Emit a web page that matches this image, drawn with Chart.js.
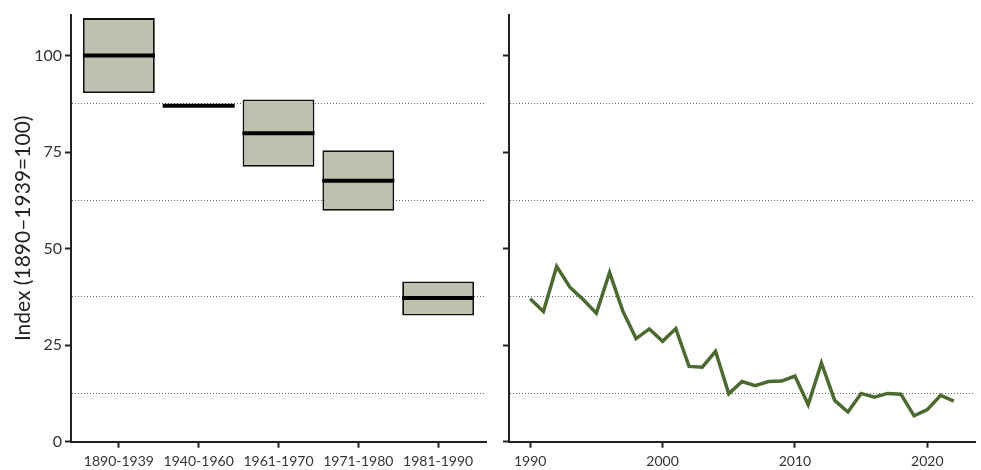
<!DOCTYPE html>
<html>
<head>
<meta charset="utf-8">
<script src="https://cdn.jsdelivr.net/npm/chart.js@4.4.0/dist/chart.umd.min.js"></script>
<style>
  html, body { margin: 0; padding: 0; background: #fff; }
  #wrap { position: relative; width: 981px; height: 470px; }
  .pane { position: absolute; top: 0; height: 470px; }
  #left { left: 0; width: 495px; }
  #right { left: 495px; width: 486px; }
</style>
</head>
<body>
<div id="wrap">
  <div class="pane" id="left"><canvas id="periodChart" width="495" height="470"></canvas></div>
  <div class="pane" id="right"><canvas id="annualChart" width="486" height="470"></canvas></div>
</div>
<script>
// Period summaries: lower / upper bound of each box and its median
const periods = ['1890-1939', '1940-1960', '1961-1970', '1971-1980', '1981-1990'];
const periodLow = [90.3, 87.0, 71.2, 59.8, 32.7];
const periodHigh = [109.7, 87.0, 88.6, 75.5, 41.5];
const periodMedian = [100, 87.0, 79.9, 67.6, 37.2];

// Annual index since 1990
const years = [1990, 1991, 1992, 1993, 1994, 1995, 1996, 1997, 1998, 1999,
               2000, 2001, 2002, 2003, 2004, 2005, 2006, 2007, 2008, 2009,
               2010, 2011, 2012, 2013, 2014, 2015, 2016, 2017, 2018, 2019,
               2020, 2021, 2022];
const annualIndex = [37.0, 33.7, 45.4, 40.0, 36.8, 33.3, 43.8, 33.8, 26.7, 29.2,
                     26.0, 29.3, 19.5, 19.3, 23.4, 12.4, 15.6, 14.5, 15.6, 15.7,
                     17.0, 9.6, 20.4, 10.7, 7.7, 12.5, 11.5, 12.5, 12.3, 6.7,
                     8.3, 12.0, 10.5];

// Axis breaks
const yMajorTicks = [0, 25, 50, 75, 100];
const yMinorBreaks = [12.5, 37.5, 62.5, 87.5];
const yearTicks = [1990, 2000, 2010, 2020];

const FONT = 'Lato, "Open Sans", sans-serif';
const INK = '#222';
const TEXT = '#333';

Chart.defaults.font.family = FONT;
Chart.defaults.animation = false;

function yScale(showLabels, axisWidth, titleText) {
  return {
    type: 'linear',
    min: 0,
    max: 110.5,
    afterBuildTicks: s => {
      s.ticks = yMajorTicks.concat(yMinorBreaks).sort((a, b) => a - b).map(v => ({ value: v }));
    },
    ticks: {
      autoSkip: false,
      padding: 3,
      color: TEXT,
      font: { size: 16 },
      callback: v => (showLabels && yMajorTicks.includes(v)) ? String(v) : ''
    },
    grid: {
      drawTicks: true,
      offset: false,
      lineWidth: 1,
      color: c => (c.tick && yMinorBreaks.includes(c.tick.value)) ? '#666' : 'rgba(0,0,0,0)',
      tickColor: c => (c.tick && yMajorTicks.includes(c.tick.value)) ? INK : 'rgba(0,0,0,0)',
      tickWidth: 2,
      tickLength: 6
    },
    border: { display: true, color: INK, width: 2, dash: [1, 2] },
    title: titleText ? {
      display: true,
      text: titleText,
      color: INK,
      font: { size: 21 },
      padding: { top: 11, bottom: 0 }
    } : { display: false },
    afterFit: s => { s.width = axisWidth; }
  };
}

function xAxisBase(min, max, tickValues, label, axisHeight) {
  return {
    type: 'linear',
    min: min,
    max: max,
    offset: false,
    afterBuildTicks: s => { s.ticks = tickValues.map(v => ({ value: v })); },
    ticks: {
      autoSkip: false,
      maxRotation: 0,
      padding: 5,
      color: TEXT,
      font: { size: 14 },
      callback: label
    },
    grid: { offset: false, drawOnChartArea: false, drawTicks: true, tickLength: 6, tickWidth: 2, tickColor: INK },
    border: { display: true, color: INK, width: 2 },
    afterFit: s => { s.height = axisHeight; }
  };
}

const common = {
  responsive: false,
  animation: false,
  plugins: { legend: { display: false }, tooltip: { enabled: false } }
};

// Left panel: period boxes with median bars
new Chart(document.getElementById('periodChart'), {
  type: 'bar',
  data: {
    datasets: [
      {
        type: 'line',
        order: 0,
        showLine: false,
        data: periods.map((p, i) => ({ x: i + 1, y: periodMedian[i] })),
        pointStyle: 'line',
        pointRadius: 36,
        pointBorderWidth: 4,
        borderWidth: 4,
        borderColor: '#000',
        pointBorderColor: '#000',
        clip: false
      },
      {
        type: 'bar',
        order: 1,
        data: periods.map((p, i) => ({ x: i + 1, y: [periodLow[i], periodHigh[i]] })),
        backgroundColor: '#bdc2ae',
        borderColor: '#111',
        borderWidth: 1.8,
        borderSkipped: false,
        grouped: false,
        categoryPercentage: 1,
        barPercentage: 0.9
      }
    ]
  },
  options: Object.assign({}, common, {
    layout: { autoPadding: false, padding: { left: 0, right: 9, top: 15, bottom: 0 } },
    scales: {
      x: xAxisBase(0.4, 5.6, periods.map((p, i) => i + 1), v => periods[v - 1], 28.3),
      y: yScale(true, 71, 'Index (1890\u20131939=100)')
    }
  })
});

// Right panel: annual series
new Chart(document.getElementById('annualChart'), {
  type: 'line',
  data: {
    datasets: [{
      data: years.map((y, i) => ({ x: y, y: annualIndex[i] })),
      borderColor: '#4b6a2f',
      borderWidth: 3.5,
      pointRadius: 0,
      tension: 0,
      fill: false,
      borderJoinStyle: 'miter'
    }]
  },
  options: Object.assign({}, common, {
    layout: { autoPadding: false, padding: { left: 0, right: 6, top: 15, bottom: 0 } },
    scales: {
      x: xAxisBase(1988.4, 2023.6, yearTicks, v => String(v), 28.3),
      y: yScale(false, 14, null)
    }
  })
});
</script>
</body>
</html>
